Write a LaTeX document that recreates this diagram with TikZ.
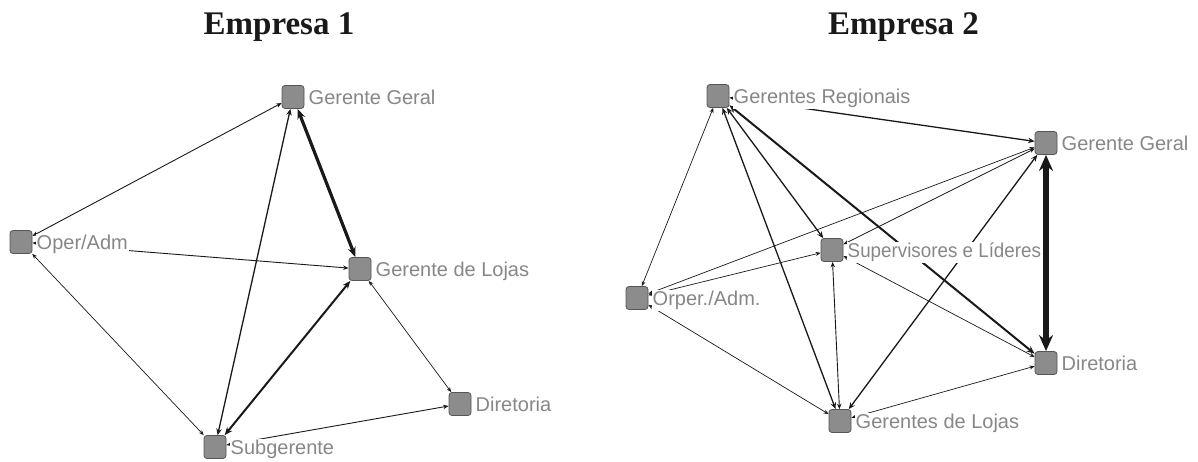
\documentclass[tikz,border=0pt]{standalone}
\usepackage{fontspec}
\setmainfont{Liberation Serif}
\newfontfamily\lblfont{Liberation Sans}
\newfontfamily\lblnarrow{Liberation Sans}[FakeStretch=0.94]
\usetikzlibrary{arrows.meta}
\definecolor{boxfill}{RGB}{140,140,140}
\definecolor{boxline}{RGB}{85,85,85}
\definecolor{lblcol}{RGB}{135,135,135}
\definecolor{tiecol}{RGB}{25,25,25}
\begin{document}
\begin{tikzpicture}[x=1pt,y=-1pt,
  actor/.style={draw=boxline, fill=boxfill, line width=0.8pt, rounded corners=3pt,
    minimum width=22pt, minimum height=23pt, inner sep=0pt},
  lab/.style={anchor=base west, fill=white, inner sep=1pt, text=lblcol,
    font=\lblfont\fontsize{20}{21}\selectfont},
  ttl/.style={anchor=base, inner sep=0pt, text=black!90,
    font=\bfseries\fontsize{33}{36}\selectfont},
  w1/.style={draw=tiecol, line width=0.7pt, >={Stealth[length=5pt,width=4pt]}, <->},
  w2/.style={draw=tiecol, line width=0.9pt, >={Stealth[length=5.5pt,width=4.5pt]}, <->},
  w3/.style={draw=tiecol, line width=1.3pt, >={Stealth[length=6.5pt,width=5.5pt]}, <->},
  w4/.style={draw=tiecol, line width=2pt, >={Stealth[length=8pt,width=6.5pt]}, <->},
  w5/.style={draw=tiecol, line width=3.2pt, >={Stealth[length=10pt,width=8pt]}, <->},
  w6/.style={draw=tiecol, line width=6pt, >={Stealth[length=16pt,width=14pt]}, <->}
]
\useasboundingbox (0,0) rectangle (1198,462);

% titles
\node[ttl] (title1) at (279,35) {Empresa 1};
\node[ttl] (title2) at (903.5,35) {Empresa 2};

% ---------- Empresa 1 ----------
\node[actor] (gg)   at (293,97)  {};
\node[actor] (oper) at (21,242)  {};
\node[actor] (gdl)  at (360,269) {};
\node[actor] (dir)  at (460,404) {};
\node[actor] (sub)  at (215,447) {};

\draw[w2] (oper) -- (gg);
\draw[w2] (oper) -- (gdl);
\draw[w1] (oper) -- (sub);
\draw[w3] (gg) -- (sub);
\draw[w5] (gg) -- (gdl);
\draw[w4] (gdl) -- (sub);
\draw[w1] (gdl) -- (dir);
\draw[w2] (sub) -- (dir);

\node[lab] (lgg)   at (307.5,104.5) {Gerente Geral};
\node[lab] (loper) at (35.5,249.5)  {Oper/Adm};
\node[lab] (lgdl)  at (374.5,276.5) {Gerente de Lojas};
\node[lab] (ldir)  at (474.5,411.5) {Diretoria};
\node[lab] (lsub)  at (229.5,454.5) {Subgerente};

% ---------- Empresa 2 ----------
\node[actor] (gr)   at (718,96)   {};
\node[actor] (sup)  at (832,250)  {};
\node[actor] (gg2)  at (1046,143) {};
\node[actor] (orp)  at (637,298)  {};
\node[actor] (gdl2) at (840,421)  {};
\node[actor] (dir2) at (1046,363) {};

\draw[w3] (gr) -- (gg2);
\draw[w1] (gr) -- (orp);
\draw[w3] (gr) -- (gdl2);
\draw[w3] (gr) -- (sup);
\draw[w4] (gr) -- (dir2);
\draw[w1] (orp) -- (gg2);
\draw[w1] (orp) -- (sup);
\draw[w1] (sup) -- (gg2);
\draw[w3] (gg2) -- (gdl2);
\draw[w1] (sup) -- (dir2);
\draw[w2] (sup) -- (gdl2);
\draw[w1] (orp) -- (gdl2);
\draw[w1] (gdl2) -- (dir2);

\node[lab] (lgr)   at (732.5,103.5)  {Gerentes Regionais};
\node[lab, font=\lblnarrow\fontsize{20}{21}\selectfont] (lsup) at (846.5,257.5) {Supervisores e Líderes};
\node[lab] (lgg2)  at (1060.5,150.5) {Gerente Geral};
\node[lab] (lorp)  at (651.5,305.5)  {Orper./Adm.};
\node[lab] (lgdl2) at (854.5,428.5)  {Gerentes de Lojas};
\node[lab] (ldir2) at (1060.5,370.5) {Diretoria};

% strongest tie drawn last so no label hides it
\draw[w6] (gg2) -- (dir2);
\end{tikzpicture}
\end{document}
